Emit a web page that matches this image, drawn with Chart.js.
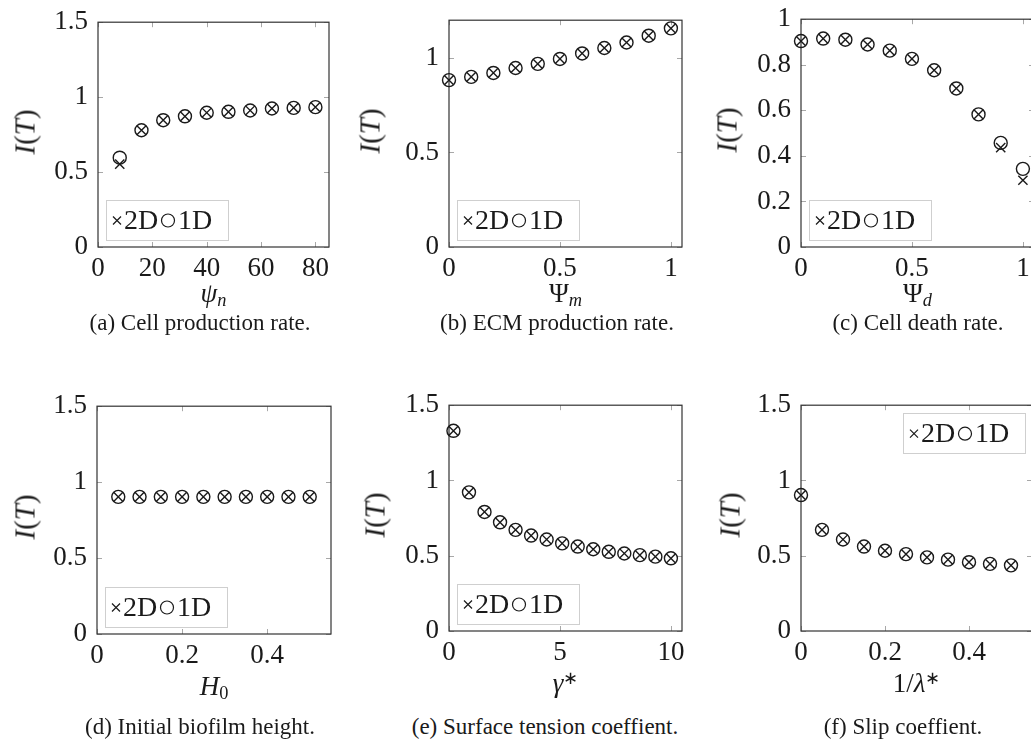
<!DOCTYPE html>
<html><head><meta charset="utf-8">
<script src="https://cdn.jsdelivr.net/npm/chart.js@4.4.1/dist/chart.umd.min.js"></script>
<style>
html,body{margin:0;padding:0;background:#fff;width:1031px;height:744px;overflow:hidden;position:relative;font-family:'Liberation Serif',serif;color:#1a1a1a}
.c{position:absolute}
.lbl{position:absolute;font-size:27px;white-space:nowrap;transform:translate(-50%,-50%);line-height:1}
.yl{font-size:29px;transform:translate(-50%,-50%) rotate(-90deg)}
.cap{position:absolute;font-size:23px;white-space:nowrap;transform:translate(-50%,-50%);line-height:1}
sub{font-size:0.68em;position:relative;top:0.2em;vertical-align:baseline}
sup{font-size:0.68em;position:relative;top:-0.45em;vertical-align:baseline}
</style>
</head><body>
<script>
// ---- data ----
const aX  = [8,16,24,32,40,48,56,64,72,80];
const a2D = [0.553,0.779,0.846,0.872,0.896,0.902,0.911,0.924,0.928,0.933];
const a1D = [0.596,0.779,0.846,0.872,0.896,0.902,0.911,0.924,0.928,0.933];
const aXTicks = [0,20,40,60,80];
const aYTicks = [0,0.5,1,1.5];

const bX  = [0,0.1,0.2,0.3,0.4,0.5,0.6,0.7,0.8,0.9,1.0];
const b2D = [0.883,0.900,0.921,0.947,0.969,0.995,1.024,1.053,1.082,1.118,1.157];
const b1D = [0.883,0.900,0.921,0.947,0.969,0.995,1.024,1.053,1.082,1.118,1.157];
const bXTicks = [0,0.5,1];
const bYTicks = [0,0.5,1];

const cX  = [0,0.1,0.2,0.3,0.4,0.5,0.6,0.7,0.8,0.9,1.0];
const c2D = [0.904,0.915,0.910,0.889,0.862,0.826,0.776,0.696,0.582,0.436,0.293];
const c1D = [0.904,0.915,0.910,0.889,0.862,0.826,0.776,0.696,0.582,0.457,0.343];
const cXTicks = [0,0.5,1];
const cYTicks = [0,0.2,0.4,0.6,0.8,1];

const dX  = [0.05,0.1,0.15,0.2,0.25,0.3,0.35,0.4,0.45,0.5];
const d2D = [0.903,0.903,0.903,0.903,0.903,0.903,0.903,0.903,0.903,0.903];
const d1D = [0.903,0.903,0.903,0.903,0.903,0.903,0.903,0.903,0.903,0.903];
const dXTicks = [0,0.2,0.4];
const dYTicks = [0,0.5,1,1.5];

const eX  = [0.2,0.9,1.6,2.3,3.0,3.7,4.4,5.1,5.8,6.5,7.2,7.9,8.6,9.3,10.0];
const e2D = [1.33,0.921,0.791,0.722,0.672,0.634,0.608,0.582,0.561,0.543,0.526,0.515,0.504,0.494,0.483];
const e1D = [1.33,0.921,0.791,0.722,0.672,0.634,0.608,0.582,0.561,0.543,0.526,0.515,0.504,0.494,0.483];
const eXTicks = [0,5,10];
const eYTicks = [0,0.5,1,1.5];

const fX  = [0,0.05,0.1,0.15,0.2,0.25,0.3,0.35,0.4,0.45,0.5];
const f2D = [0.903,0.672,0.608,0.561,0.533,0.511,0.489,0.474,0.457,0.446,0.436];
const f1D = [0.903,0.672,0.608,0.561,0.533,0.511,0.489,0.474,0.457,0.446,0.436];
const fXTicks = [0,0.2,0.4];
const fYTicks = [0,0.5,1,1.5];

const legendLabels = ['2D','1D'];
const yTitle = '<i>I</i>(<i>T</i>)';

// ---- layout ----
const panels = [
  {rect:[98,16,329,247],  xMax:85,   yMax:1.5, x:aX, d2:a2D, d1:a1D, xt:aXTicks, yt:aYTicks, leg:'bl', yOff:73, xtY:46,
   xTitle:'<i>ψ</i><sub><i>n</i></sub>', cap:'(a) Cell production rate.', capX:200, capY:322},
  {rect:[449,14,682,247], xMax:1.05, yMax:1.2, x:bX, d2:b2D, d1:b1D, xt:bXTicks, yt:bYTicks, leg:'bl', yOff:79, xtY:46,
   xTitle:'Ψ<sub><i>m</i></sub>', cap:'(b) ECM production rate.', capX:557, capY:322},
  {rect:[801,13,1034,247],xMax:1.05, yMax:1.0, x:cX, d2:c2D, d1:c1D, xt:cXTicks, yt:cYTicks, leg:'bl', yOff:74, xtY:46,
   xTitle:'Ψ<sub><i>d</i></sub>', cap:'(c) Cell death rate.', capX:918, capY:322},
  {rect:[97,400,331,634], xMax:0.55, yMax:1.5, x:dX, d2:d2D, d1:d1D, xt:dXTicks, yt:dYTicks, leg:'bl', yOff:72, xtY:52,
   xTitle:'<i>H</i><sub>0</sub>', cap:'(d) Initial biofilm height.', capX:200, capY:726},
  {rect:[449,399,682,631],xMax:10.5, yMax:1.5, x:eX, d2:e2D, d1:e1D, xt:eXTicks, yt:eYTicks, leg:'bl', yOff:74, xtY:52,
   xTitle:'<i>γ</i><sup>∗</sup>', cap:'(e) Surface tension coeffient.', capX:545, capY:726},
  {rect:[801,399,1032,631],xMax:0.55,yMax:1.5, x:fX, d2:f2D, d1:f1D, xt:fXTicks, yt:fYTicks, leg:'tr', yOff:71, xtY:52,
   xTitle:'1/<i>λ</i><sup>∗</sup>', cap:'(f) Slip coeffient.', capX:903, capY:726}
];

const INK = '#1a1a1a';
const framePlugin = {
  id:'frame',
  beforeDatasetsDraw(chart){
    const {ctx, chartArea:a, scales} = chart;
    ctx.save();
    ctx.strokeStyle = '#a8a8a8'; ctx.lineWidth = 1;
    const tl = 5;
    scales.x.ticks.forEach(t=>{
      const px = Math.round(scales.x.getPixelForValue(t.value))+0.5;
      ctx.beginPath(); ctx.moveTo(px,a.bottom); ctx.lineTo(px,a.bottom-tl);
      ctx.moveTo(px,a.top); ctx.lineTo(px,a.top+tl); ctx.stroke();
    });
    scales.y.ticks.forEach(t=>{
      const py = Math.round(scales.y.getPixelForValue(t.value))+0.5;
      ctx.beginPath(); ctx.moveTo(a.left,py); ctx.lineTo(a.left+tl,py);
      ctx.moveTo(a.right,py); ctx.lineTo(a.right-tl,py); ctx.stroke();
    });
    ctx.strokeStyle = '#333'; ctx.lineWidth = 1.2;
    ctx.strokeRect(a.left, a.top, a.right-a.left, a.bottom-a.top);
    ctx.restore();
  },
  afterDraw(chart, args, opts){
    const {ctx, chartArea:a} = chart;
    const w = 122, h = 40;
    let x, y;
    if (opts.pos === 'tr'){ x = a.right - 7 - w; y = a.top + 8; }
    else { x = a.left + 8; y = a.bottom - 7 - h; }
    ctx.save();
    ctx.fillStyle = '#fff';
    ctx.fillRect(x, y, w, h);
    ctx.strokeStyle = '#cfcfcf'; ctx.lineWidth = 1;
    ctx.strokeRect(Math.round(x)+0.5, Math.round(y)+0.5, w, h);
    const cy = y + h/2 + 0.5;
    ctx.strokeStyle = INK; ctx.lineWidth = 1.2;
    const cx = x + 11, s = 4;
    ctx.beginPath(); ctx.moveTo(cx-s,cy-s); ctx.lineTo(cx+s,cy+s); ctx.moveTo(cx-s,cy+s); ctx.lineTo(cx+s,cy-s); ctx.stroke();
    ctx.fillStyle = INK;
    ctx.font = '28px "Liberation Serif"';
    ctx.textBaseline = 'alphabetic';
    ctx.fillText(legendLabels[0], x + 18, y + 29);
    ctx.beginPath(); ctx.arc(x + 62, cy, 6.5, 0, Math.PI*2); ctx.stroke();
    ctx.fillText(legendLabels[1], x + 72, y + 29);
    ctx.restore();
  }
};

function addDiv(cls, html, left, top){
  const d = document.createElement('div');
  d.className = cls; d.innerHTML = html;
  d.style.left = left + 'px'; d.style.top = top + 'px';
  document.body.appendChild(d);
}

panels.forEach(p=>{
  const [L,T,R,B] = p.rect;
  const W = R - L + 120, H = B - T + 80;
  const wrap = document.createElement('div');
  wrap.className = 'c';
  wrap.style.left = (L-100)+'px'; wrap.style.top = (T-20)+'px';
  wrap.style.width = W+'px'; wrap.style.height = H+'px';
  const cv = document.createElement('canvas');
  cv.width = W; cv.height = H; cv.style.width = W+'px'; cv.style.height = H+'px';
  wrap.appendChild(cv); document.body.appendChild(wrap);

  const tickFont = {family:'Liberation Serif', size:27};
  new Chart(cv, {
    type:'scatter',
    data:{datasets:[
      {label:legendLabels[0], data:p.x.map((v,i)=>({x:v,y:p.d2[i]})), pointStyle:'crossRot', pointRadius:6.5,
       borderColor:INK, backgroundColor:'rgba(0,0,0,0)', borderWidth:1.4, clip:false, showLine:false},
      {label:legendLabels[1], data:p.x.map((v,i)=>({x:v,y:p.d1[i]})), pointStyle:'circle', pointRadius:6.5,
       borderColor:INK, backgroundColor:'rgba(0,0,0,0)', borderWidth:1.4, clip:false, showLine:false}
    ]},
    options:{
      responsive:false, animation:false, events:[],
      layout:{padding:{top:20,right:20,left:0,bottom:0}},
      plugins:{legend:{display:false}, tooltip:{enabled:false}, frame:{pos:p.leg}},
      scales:{
        x:{type:'linear', min:0, max:p.xMax, offset:false,
           grid:{display:false, drawTicks:false}, border:{display:false},
           ticks:{font:tickFont, color:INK, padding:6, maxRotation:0, autoSkip:false, callback:v=>String(v)},
           afterBuildTicks:s=>{ s.ticks = p.xt.map(v=>({value:v})); },
           afterFit:s=>{ s.height = 60; }},
        y:{type:'linear', min:0, max:p.yMax,
           grid:{display:false, drawTicks:false}, border:{display:false},
           ticks:{font:tickFont, color:INK, padding:10, autoSkip:false, callback:v=>String(v)},
           afterBuildTicks:s=>{ s.ticks = p.yt.map(v=>({value:v})); },
           afterFit:s=>{ s.width = 100; }}
      }
    },
    plugins:[framePlugin]
  });

  addDiv('lbl yl', yTitle, L - p.yOff, (T+B)/2);
  addDiv('lbl', p.xTitle, (L+R)/2, B + p.xtY);
  addDiv('cap', p.cap, p.capX, p.capY);
});
</script>
</body></html>
